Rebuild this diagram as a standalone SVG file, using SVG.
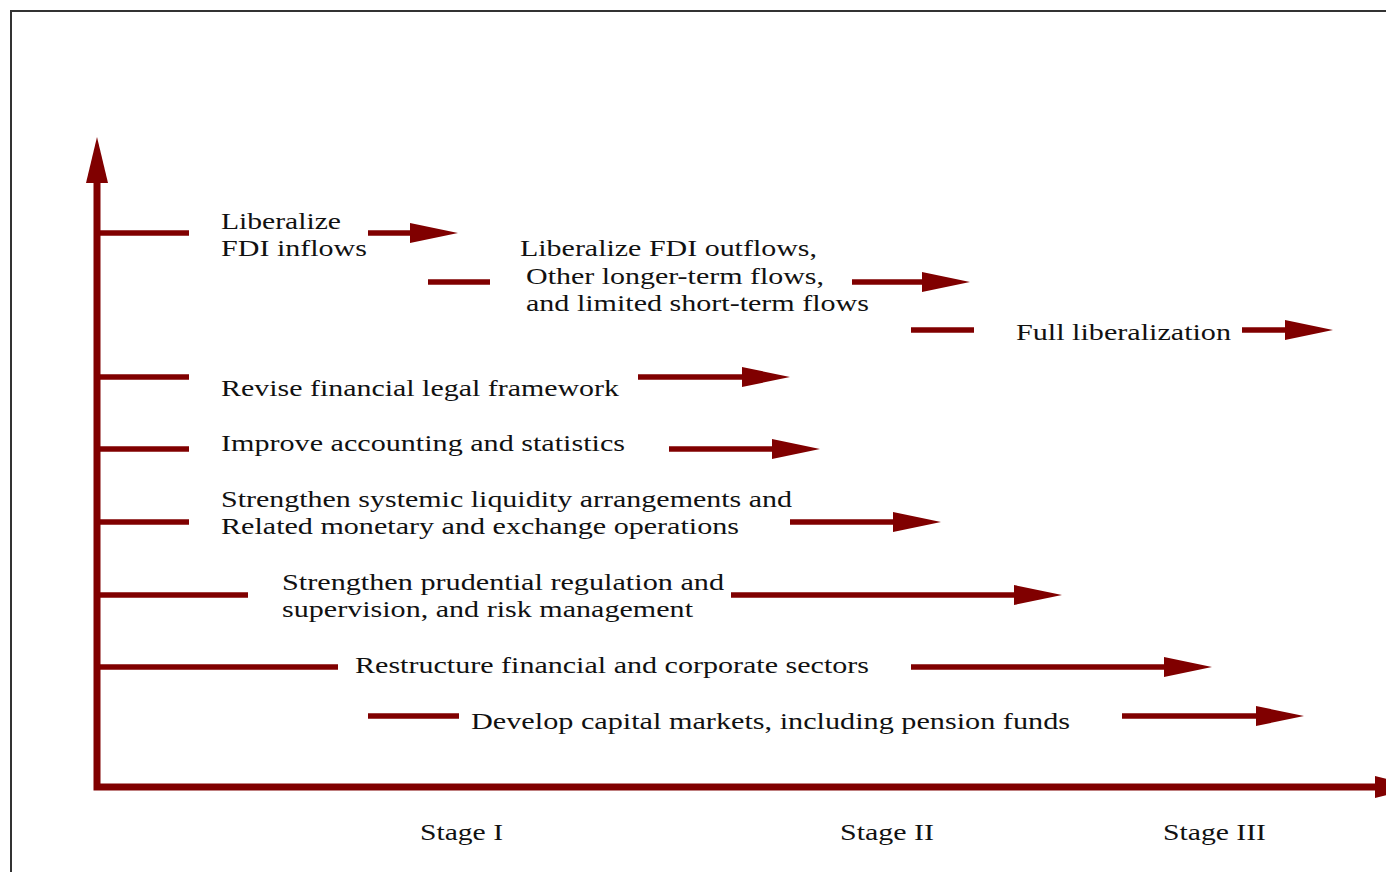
<svg xmlns="http://www.w3.org/2000/svg" width="1386" height="872" viewBox="0 0 1386 872">
  <defs>
    <style>
      .lbl { font-family: "Liberation Serif", "Times New Roman", serif; font-size: 24px; fill: #111; }
      .bar { stroke: #800000; stroke-width: 5.5; fill: none; stroke-linecap: butt; }
      .arr { stroke: #800000; stroke-width: 5.5; fill: none; marker-end: url(#head); }
      .axis { stroke: #800000; stroke-width: 7; fill: none; stroke-linejoin: miter; marker-start: url(#axhead); marker-end: url(#axhead); }
    </style>
    <marker id="head" markerUnits="userSpaceOnUse" markerWidth="48" markerHeight="20" refX="0" refY="10" orient="auto" overflow="visible">
      <path d="M0,0 L48,10 L0,20 Z" fill="#800000"/>
    </marker>
    <marker id="axhead" markerUnits="userSpaceOnUse" markerWidth="46" markerHeight="22" refX="0" refY="11" orient="auto-start-reverse" overflow="visible">
      <path d="M0,0 L46,11 L0,22 Z" fill="#800000"/>
    </marker>
  </defs>
  <rect x="0" y="0" width="1386" height="872" fill="#ffffff"/>
  <rect x="11" y="11" width="1400" height="900" fill="none" stroke="#333333" stroke-width="2"/>

  <g id="connectors">
    <path class="axis" d="M97,183 V787 H1375"/>
    <line class="bar" x1="97" y1="233" x2="189" y2="233"/>
    <line class="arr" x1="368" y1="233" x2="410" y2="233"/>
    <line class="bar" x1="428" y1="282" x2="490" y2="282"/>
    <line class="arr" x1="852" y1="282" x2="922" y2="282"/>
    <line class="bar" x1="911" y1="330" x2="974" y2="330"/>
    <line class="arr" x1="1242" y1="330" x2="1285" y2="330"/>
    <line class="bar" x1="97" y1="377" x2="189" y2="377"/>
    <line class="arr" x1="638" y1="377" x2="742" y2="377"/>
    <line class="bar" x1="97" y1="449" x2="189" y2="449"/>
    <line class="arr" x1="669" y1="449" x2="772" y2="449"/>
    <line class="bar" x1="97" y1="522" x2="189" y2="522"/>
    <line class="arr" x1="790" y1="522" x2="893" y2="522"/>
    <line class="bar" x1="97" y1="595" x2="248" y2="595"/>
    <line class="arr" x1="731" y1="595" x2="1014" y2="595"/>
    <line class="bar" x1="97" y1="667" x2="338" y2="667"/>
    <line class="arr" x1="911" y1="667" x2="1164" y2="667"/>
    <line class="bar" x1="368" y1="716" x2="459" y2="716"/>
    <line class="arr" x1="1122" y1="716" x2="1256" y2="716"/>
  </g>

  <g id="n-fdi-in">
    <text class="lbl" x="221" y="229" textLength="120" lengthAdjust="spacingAndGlyphs">Liberalize</text>
    <text class="lbl" x="221" y="256" textLength="146" lengthAdjust="spacingAndGlyphs">FDI inflows</text>
  </g>
  <g id="n-fdi-out">
    <text class="lbl" x="520" y="256" textLength="297" lengthAdjust="spacingAndGlyphs">Liberalize FDI outflows,</text>
    <text class="lbl" x="526" y="284" textLength="298" lengthAdjust="spacingAndGlyphs">Other longer-term flows,</text>
    <text class="lbl" x="526" y="311" textLength="343" lengthAdjust="spacingAndGlyphs">and limited short-term flows</text>
  </g>
  <g id="n-full">
    <text class="lbl" x="1016" y="340" textLength="215" lengthAdjust="spacingAndGlyphs">Full liberalization</text>
  </g>
  <g id="n-legal">
    <text class="lbl" x="221" y="396" textLength="398" lengthAdjust="spacingAndGlyphs">Revise financial legal framework</text>
  </g>
  <g id="n-accounting">
    <text class="lbl" x="221" y="451" textLength="404" lengthAdjust="spacingAndGlyphs">Improve accounting and statistics</text>
  </g>
  <g id="n-liquidity">
    <text class="lbl" x="221" y="507" textLength="571" lengthAdjust="spacingAndGlyphs">Strengthen systemic liquidity arrangements and</text>
    <text class="lbl" x="221" y="534" textLength="518" lengthAdjust="spacingAndGlyphs">Related monetary and exchange operations</text>
  </g>
  <g id="n-prudential">
    <text class="lbl" x="282" y="590" textLength="442" lengthAdjust="spacingAndGlyphs">Strengthen prudential regulation and</text>
    <text class="lbl" x="282" y="617" textLength="411" lengthAdjust="spacingAndGlyphs">supervision, and risk management</text>
  </g>
  <g id="n-restructure">
    <text class="lbl" x="355" y="673" textLength="514" lengthAdjust="spacingAndGlyphs">Restructure financial and corporate sectors</text>
  </g>
  <g id="n-capital">
    <text class="lbl" x="471" y="729" textLength="599" lengthAdjust="spacingAndGlyphs">Develop capital markets, including pension funds</text>
  </g>
  <g id="axis-labels">
    <text class="lbl" x="420" y="840" textLength="83" lengthAdjust="spacingAndGlyphs">Stage I</text>
    <text class="lbl" x="840" y="840" textLength="94" lengthAdjust="spacingAndGlyphs">Stage II</text>
    <text class="lbl" x="1163" y="840" textLength="103" lengthAdjust="spacingAndGlyphs">Stage III</text>
  </g>
</svg>
